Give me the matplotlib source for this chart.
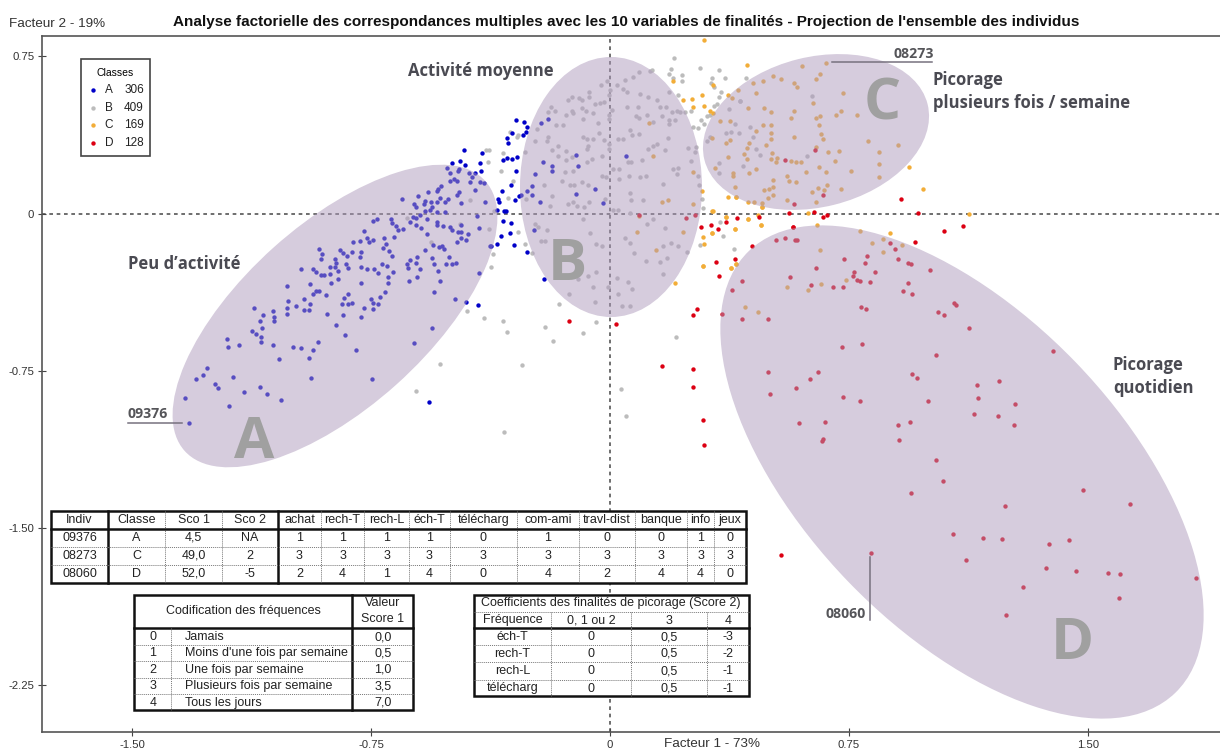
import numpy as np
import matplotlib
matplotlib.use("Agg")
from matplotlib import pyplot as plt
from matplotlib.patches import Ellipse, Rectangle

# points (factor 1, factor 2)
a_pts = [(-1.322,-0.997),(-1.334,-0.879),(-1.299,-0.790),(-1.277,-0.770),(-1.266,-0.736),(-1.240,-0.811),(-1.231,-0.830),
    (-1.195,-0.919),(-1.183,-0.781),(-1.150,-0.849),(-1.098,-0.825),(-1.076,-0.860),(-1.033,-0.889),(-1.202,-0.598),
    (-1.198,-0.638),(-1.163,-0.628),(-1.124,-0.558),(-1.111,-0.573),(-1.095,-0.590),(-1.095,-0.612),(-1.092,-0.544),
    (-1.098,-0.515),(-1.089,-0.485),(-1.118,-0.450),(-1.056,-0.464),(-1.053,-0.495),(-1.053,-0.511),(-1.056,-0.628),
    (-1.039,-0.692),(-0.994,-0.638),(-0.971,-0.643),(-0.933,-0.652),(-0.945,-0.687),(-0.916,-0.612),(-0.939,-0.786),
    (-1.013,-0.480),(-1.013,-0.450),(-1.010,-0.415),(-0.985,-0.439),(-0.959,-0.410),(-0.959,-0.460),(-0.945,-0.460),
    (-0.942,-0.431),(-1.013,-0.347),(-0.971,-0.267),(-0.933,-0.263),(-0.923,-0.277),(-0.907,-0.293),(-0.897,-0.293),
    (-0.880,-0.288),(-0.880,-0.253),(-0.913,-0.169),(-0.903,-0.194),(-0.907,-0.218),(-0.862,-0.218),(-0.859,-0.234),
    (-0.862,-0.253),(-0.855,-0.272),(-0.848,-0.174),(-0.839,-0.189),(-0.826,-0.204),(-0.829,-0.239),(-0.823,-0.258),
    (-0.809,-0.185),(-0.806,-0.135),(-0.784,-0.129),(-0.771,-0.084),(-0.764,-0.115),(-0.755,-0.134),(-0.745,-0.124),
    (-0.745,-0.035),(-0.732,-0.027),(-0.686,-0.026),(-0.683,-0.046),(-0.670,-0.061),(-0.664,-0.081),(-0.650,-0.075),
    (-0.677,-0.110),(-0.709,-0.115),(-0.703,-0.145),(-0.712,-0.164),(-0.692,-0.180),(-0.683,-0.204),(-0.780,-0.185),
    (-0.784,-0.209),(-0.780,-0.253),(-0.764,-0.263),(-0.741,-0.267),(-0.729,-0.282),(-0.715,-0.239),(-0.699,-0.248),
    (-0.680,-0.278),(-0.696,-0.302),(-0.696,-0.333),(-0.706,-0.375),(-0.722,-0.396),(-0.727,-0.431),(-0.745,-0.455),
    (-0.751,-0.406),(-0.745,-0.426),(-0.771,-0.450),(-0.780,-0.495),(-0.780,-0.333),(-0.809,-0.426),(-0.823,-0.382),
    (-0.835,-0.401),(-0.842,-0.431),(-0.823,-0.431),(-0.839,-0.485),(-0.859,-0.534),(-0.832,-0.579),(-0.797,-0.649),
    (-0.888,-0.480),(-0.891,-0.387),(-0.923,-0.371),(-0.933,-0.382),(-0.914,-0.371),(-0.942,-0.337),(-0.874,-0.333),
    (-0.852,-0.313),(-0.748,-0.790),(-0.615,-0.617),(-0.559,-0.544),(-0.485,-0.410),(-0.453,-0.422),(-0.411,-0.283),
    (-0.553,-0.375),(-0.534,-0.323),(-0.541,-0.274),(-0.553,-0.239),(-0.559,-0.213),(-0.605,-0.302),(-0.631,-0.323),
    (-0.595,-0.263),(-0.609,-0.234),(-0.605,-0.209),(-0.627,-0.224),(-0.638,-0.243),(-0.635,-0.258),(-0.582,-0.174),
    (-0.556,-0.150),(-0.537,-0.161),(-0.527,-0.154),(-0.521,-0.169),(-0.505,-0.209),(-0.514,-0.243),(-0.495,-0.243),
    (-0.482,-0.234),(-0.479,-0.135),(-0.453,-0.124),(-0.469,-0.115),(-0.446,-0.100),(-0.476,-0.089),(-0.466,-0.089),
    (-0.466,-0.056),(-0.502,-0.065),(-0.496,-0.080),(-0.524,-0.061),(-0.544,-0.042),(-0.544,-0.056),(-0.573,-0.096),
    (-0.592,-0.070),(-0.609,-0.056),(-0.627,-0.042),(-0.618,-0.016),(-0.609,-0.021),(-0.595,-0.005),(-0.573,-0.027),
    (-0.582,0.014),(-0.566,0.019),(-0.559,0.033),(-0.609,0.033),(-0.615,0.044),(-0.653,0.067),(-0.602,0.082),
    (-0.585,0.044),(-0.582,0.059),(-0.562,0.057),(-0.570,0.102),(-0.544,0.106),(-0.541,0.117),(-0.530,0.132),
    (-0.534,0.073),(-0.544,0.054),(-0.517,0.057),(-0.508,0.071),(-0.544,0.008),(-0.517,0.008),(-0.417,-0.011),
    (-0.411,-0.070),(-0.374,-0.154),(-0.391,0.054),(-0.466,0.049),(-0.479,0.087),(-0.473,0.102),(-0.423,0.113),
    (-0.408,0.149),(-0.394,0.146),(-0.444,0.192),(-0.434,0.173),(-0.423,0.192),(-0.440,0.152),(-0.502,0.192),
    (-0.511,0.219),(-0.476,0.202),(-0.473,0.213),(-0.479,0.157),(-0.502,0.154),(-0.489,0.164),
    (-0.295,0.447),(-0.269,0.434),(-0.262,0.412),(-0.264,0.388),(-0.272,0.372),(-0.308,0.383),(-0.324,0.359),
    (-0.321,0.334),(-0.457,0.305),(-0.402,0.289),(-0.337,0.256),(-0.324,0.266),(-0.308,0.261),(-0.292,0.270),
    (-0.408,0.242),(-0.406,0.205),(-0.470,0.251),(-0.496,0.242),(-0.455,0.229),(-0.295,0.205),(-0.311,0.134),
    (-0.340,0.107),(-0.350,0.067),(-0.347,0.053),(-0.298,0.062),(-0.286,0.083),(-0.280,0.086),(-0.261,0.107),
    (-0.246,0.129),(-0.246,0.086),(-0.220,0.054),(-0.236,0.186),(-0.183,0.226),(-0.183,0.205),(-0.211,0.245),
    (-0.217,0.433),(-0.194,0.452),(-0.107,0.278),(-0.099,0.226),(0.049,0.274),(-0.048,0.116),(-0.107,0.092),
    (-0.022,0.049),(-0.334,0.014),(-0.326,0.014),(-0.356,0.019),(-0.337,-0.036),(-0.311,-0.046),(-0.314,-0.095),
    (-0.343,-0.105),(-0.356,-0.145),(-0.301,-0.149),(-0.375,-0.154),(-0.259,-0.183),(-0.240,-0.081),(-0.207,-0.312),
    (-0.414,-0.436),(-0.567,-0.900)]

b_pts = [(0.202,0.743),(0.191,0.689),(0.185,0.665),(0.198,0.646),(0.227,0.660),(0.225,0.630),(0.282,0.693),(0.341,0.684),
    (0.360,0.646),(0.321,0.644),(0.317,0.620),(0.327,0.603),(0.349,0.580),(0.343,0.555),(0.335,0.520),(0.326,0.515),
    (0.314,0.472),(0.304,0.464),(0.286,0.448),(0.295,0.428),(0.275,0.406),(0.259,0.412),(0.253,0.491),(0.426,0.644),
    (0.408,0.536),(0.133,0.685),(0.126,0.679),(0.090,0.673),(0.071,0.649),(0.046,0.639),(0.023,0.611),(0.040,0.596),
    (-0.009,0.634),(-0.028,0.611),(0.000,0.587),(-0.002,0.563),(0.054,0.580),(0.094,0.568),(0.120,0.555),(0.146,0.541),
    (0.186,0.580),(0.213,0.563),(-0.067,0.579),(-0.065,0.555),(-0.087,0.542),(-0.097,0.550),(-0.120,0.555),(-0.131,0.539),
    (-0.019,0.534),(-0.031,0.526),(-0.047,0.523),(-0.186,0.510),(-0.172,0.491),(-0.139,0.469),(-0.120,0.491),(-0.117,0.479),
    (-0.089,0.504),(-0.075,0.491),(-0.052,0.479),(-0.084,0.452),(-0.039,0.433),(-0.002,0.452),(-0.002,0.468),(0.007,0.495),
    (0.052,0.507),(0.087,0.507),(0.082,0.463),(0.090,0.456),(0.117,0.468),(0.157,0.507),(0.176,0.507),(0.193,0.483),
    (0.209,0.491),(0.220,0.483),(0.236,0.482),(0.136,0.436),(0.162,0.463),(0.186,0.447),(0.205,0.448),(0.185,0.428),
    (-0.194,0.483),(-0.169,0.420),(-0.148,0.420),(-0.230,0.401),(-0.194,0.364),(-0.199,0.345),(-0.235,0.344),(-0.266,0.294),
    (-0.183,0.305),(-0.162,0.320),(-0.139,0.297),(-0.162,0.272),(-0.084,0.364),(-0.073,0.356),(-0.052,0.356),(-0.036,0.383),
    (-0.019,0.351),(-0.002,0.332),(-0.002,0.309),(0.024,0.353),(0.042,0.356),(0.063,0.396),(0.068,0.375),(0.090,0.380),
    (0.120,0.309),(0.136,0.324),(0.148,0.332),(0.173,0.304),(0.181,0.359),(0.244,0.312),(0.269,0.317),(0.267,0.293),
    (0.253,0.248),(0.214,0.218),(0.209,0.189),(0.199,0.213),(0.277,0.178),(0.279,0.134),(0.288,0.070),(-0.069,0.324),
    (-0.073,0.309),(-0.025,0.272),(-0.058,0.261),(-0.073,0.245),(-0.118,0.269),(-0.139,0.253),(-0.115,0.205),(-0.141,0.197),
    (-0.152,0.154),(-0.126,0.137),(-0.113,0.137),(-0.089,0.150),(-0.068,0.138),(-0.026,0.181),(-0.014,0.173),(0.010,0.213),
    (0.029,0.213),(0.028,0.165),(0.061,0.177),(0.094,0.173),(0.113,0.178),(0.058,0.245),(0.065,0.245),(0.099,0.253),
    (0.167,0.142),(0.105,0.062),(0.065,0.062),(0.063,0.099),(-0.207,0.137),(-0.183,0.083),(-0.264,0.070),(-0.188,0.038),
    (-0.131,0.046),(-0.115,0.054),(-0.105,0.038),(-0.081,0.030),(-0.065,0.054),(-0.016,0.070),(0.010,0.019),(0.024,0.019),
    (-0.084,-0.025),(0.063,0.002),(0.136,-0.025),(0.173,-0.070),(0.117,-0.049),(-0.235,-0.049),(-0.225,-0.065),(-0.199,-0.081),
    (-0.204,-0.129),(-0.218,-0.132),(-0.063,-0.092),(-0.045,-0.145),(-0.026,-0.153),(0.048,-0.118),(0.063,-0.140),(0.075,-0.189),
    (0.113,-0.227),(0.157,-0.232),(0.178,-0.211),(0.190,-0.140),(0.167,-0.156),(0.214,-0.157),(0.243,-0.184),(0.165,-0.288),
    (0.023,-0.307),(0.055,-0.327),(0.070,-0.359),(-0.099,-0.312),(-0.068,-0.300),(-0.045,-0.277),(-0.054,-0.351),(-0.005,-0.351),
    (0.026,-0.386),(0.037,-0.440),(0.063,-0.440),(-0.048,-0.424),(-0.129,-0.386),(-0.161,-0.431),(-0.045,-0.518),(-0.204,-0.542),
    (-0.335,-0.515),(-0.395,-0.498),(-0.450,-0.466),(-0.372,-0.253),(-0.366,-0.192),(-0.267,-0.145),(-0.246,-0.189),(-0.289,-0.086),
    (-0.341,0.205),(-0.337,0.289),(-0.382,0.245),(-0.389,0.301),(-0.379,0.301),(-0.314,0.388),(-0.288,0.375),(-0.293,0.364),
    (-0.320,0.073),(-0.305,0.153),(-0.364,0.014),(-0.379,-0.075),(-0.471,-0.049),(-0.563,-0.138),(-0.439,0.065),(-0.638,-0.021),
    (-0.609,-0.845),(-0.533,-0.717),(-0.324,-0.565),(-0.275,-0.722),(-0.332,-1.042),(0.633,0.560),(0.374,0.499),(0.409,0.536),
    (0.392,0.428),(0.438,0.412),(0.364,0.383),(0.380,0.388),(0.406,0.383),(0.448,0.367),(0.458,0.309),(0.470,0.280),
    (0.619,0.274),(0.418,0.226),(0.341,0.240),(0.341,0.191),(0.305,0.344),(0.314,0.367),(0.345,-0.041),(0.354,-0.105),
    (0.390,-0.170),(0.282,-0.149),(0.293,0.024),(-0.178,-0.609),(-0.084,-0.569),(0.036,-0.835),(0.049,-0.964),(0.208,-0.588)]

c_pts = [(0.429,0.709),(0.199,0.630),(0.230,0.541),(0.256,0.547),(0.290,0.566),(0.259,0.510),(0.296,0.515),(0.314,0.491),
    (0.324,0.480),(0.370,0.566),(0.403,0.590),(0.322,0.611),(0.123,0.431),(0.288,0.107),(0.162,0.053),(0.183,0.062),
    (0.261,0.199),(0.259,0.043),(0.321,0.014),(0.370,0.078),(0.395,0.081),(0.432,-0.025),(0.463,-0.005),(0.474,-0.057),
    (0.476,0.030),(0.364,-0.017),(0.392,-0.075),(0.321,-0.094),(0.291,-0.110),(0.295,-0.145),(0.293,-0.248),(0.204,-0.332),
    (0.380,-0.262),(0.395,-0.243),(0.143,-0.173),(0.084,-0.086),(0.230,-0.086),(0.090,-0.010),(0.134,0.274),(0.622,0.003),
    (0.651,-0.056),(0.295,0.825),(0.677,0.717),(0.603,0.704),(0.659,0.665),(0.646,0.641),(0.513,0.654),(0.536,0.641),
    (0.480,0.634),(0.450,0.622),(0.577,0.620),(0.588,0.601),(0.458,0.576),(0.730,0.576),(0.382,0.552),(0.636,0.526),
    (0.432,0.501),(0.483,0.501),(0.506,0.482),(0.577,0.487),(0.568,0.456),(0.646,0.456),(0.659,0.463),(0.710,0.472),
    (0.724,0.487),(0.775,0.468),(0.344,0.439),(0.377,0.439),(0.480,0.421),(0.506,0.421),(0.656,0.421),(0.458,0.393),
    (0.506,0.382),(0.662,0.377),(0.577,0.367),(0.319,0.361),(0.377,0.350),(0.506,0.353),(0.668,0.353),(0.435,0.337),
    (0.489,0.329),(0.364,0.334),(0.811,0.348),(0.905,0.329),(0.429,0.310),(0.421,0.285),(0.509,0.289),(0.646,0.316),
    (0.684,0.294),(0.718,0.299),(0.843,0.294),(0.370,0.269),(0.429,0.261),(0.506,0.261),(0.525,0.266),(0.522,0.245),
    (0.568,0.250),(0.584,0.245),(0.600,0.245),(0.707,0.250),(0.843,0.235),(0.328,0.216),(0.458,0.210),(0.656,0.221),
    (0.616,0.200),(0.678,0.200),(0.756,0.205),(0.387,0.194),(0.436,0.191),(0.385,0.180),(0.555,0.180),(0.843,0.172),
    (0.513,0.162),(0.562,0.156),(0.584,0.151),(0.392,0.127),(0.682,0.137),(0.652,0.123),(0.724,0.116),(0.513,0.127),
    (0.500,0.116),(0.483,0.111),(0.671,0.111),(0.633,0.102),(0.513,0.088),(0.496,0.072),(0.396,0.078),(0.432,0.057),
    (0.451,0.053),(0.477,0.048),(0.477,0.029),(0.555,0.062),(0.646,0.053),(0.937,0.221),(0.983,0.116),(1.125,0.000),
    (0.783,-0.084),(0.879,-0.095),(0.821,-0.140),(0.856,-0.121),(0.915,-0.149),(0.856,-0.184),(0.659,-0.173),(0.742,-0.316),
    (0.662,-0.337),(0.620,-0.366),(0.554,-0.351),(0.425,-0.445),(0.464,-0.471),(0.321,-0.095),(0.291,-0.250),(0.379,-0.262),
    (0.396,-0.243),(0.393,-0.076),(0.432,-0.027),(0.473,-0.056),(0.322,0.013),(0.364,-0.017)]

d_pts = [(-0.129,-0.515),(0.020,-0.525),(0.162,-0.727),(0.259,-0.741),(0.259,-0.825),(0.293,-0.987),(0.296,-1.102),(0.259,-0.485),
    (0.273,-0.455),(0.350,-0.480),(0.341,-0.299),(0.334,-0.229),(0.393,-0.219),(0.447,-0.154),(0.285,-0.065),(0.318,-0.056),
    (0.338,-0.072),(0.364,-0.041),(0.399,-0.022),(0.466,-0.018),(0.574,-0.065),(0.563,0.002),(0.639,0.008),(0.668,-0.018),
    (0.681,-0.006),(0.914,0.067),(0.966,0.003),(1.109,-0.060),(0.575,-0.065),(0.643,0.305),(0.548,0.254),(0.577,0.045),
    (0.668,0.088),(0.240,-0.022),(0.091,-0.005),(0.268,-0.006),(0.522,-0.126),(0.548,-0.116),(0.580,-0.126),(0.586,-0.126),
    (0.645,-0.258),(0.564,-0.302),(0.632,-0.342),(0.700,-0.351),(0.415,-0.321),(0.382,-0.367),(0.415,-0.504),(0.497,-0.504),
    (0.497,-0.757),(0.654,-0.757),(0.629,-0.790),(0.583,-0.830),(0.503,-0.859),(0.594,-0.997),(0.674,-0.992),(0.668,-1.075),
    (0.665,-1.086),(1.048,-0.084),(0.957,-0.135),(0.878,-0.140),(0.895,-0.170),(0.904,-0.219),(0.807,-0.204),(0.801,-0.234),
    (0.733,-0.219),(0.935,-0.234),(0.943,-0.239),(1.005,-0.269),(0.833,-0.278),(0.765,-0.278),(0.762,-0.297),(0.775,-0.316),
    (0.784,-0.321),(0.817,-0.328),(0.730,-0.351),(0.934,-0.332),(0.918,-0.370),(0.947,-0.382),(0.788,-0.445),(0.804,-0.455),
    (1.028,-0.471),(1.048,-0.485),(1.079,-0.426),(1.086,-0.436),(1.125,-0.544),(1.391,-0.657),(1.022,-0.677),(0.727,-0.638),
    (0.791,-0.623),(0.947,-0.766),(0.963,-0.785),(1.151,-0.816),(1.222,-0.801),(1.154,-0.879),(1.271,-0.908),(1.142,-0.954),
    (1.216,-0.968),(1.267,-1.008),(0.998,-0.894),(0.730,-0.875),(0.784,-0.894),(0.904,-1.008),(0.941,-0.992),(0.907,-1.081),
    (1.022,-1.175),(1.044,-1.274),(0.944,-1.332),(1.485,-1.318),(1.631,-1.383),(1.239,-1.396),(1.076,-1.530),(1.171,-1.546),
    (1.230,-1.550),(1.378,-1.574),(1.440,-1.555),(1.116,-1.654),(1.368,-1.689),(1.462,-1.703),(1.563,-1.712),(1.599,-1.717),
    (1.838,-1.738),(1.297,-1.782),(1.596,-1.832),(1.242,-1.916),(0.818,-1.619),(0.536,-1.628)]

class_names = ["A", "B", "C", "D"]
class_counts = [306, 409, 169, 128]
class_colors = ["#0000c8", "#bcbcbc", "#f2ad38", "#dc0012"]

x_ticks = [-1.50, -0.75, 0, 0.75, 1.50]
x_tick_labels = ["-1.50", "-0.75", "0", "0.75", "1.50"]
y_ticks = [0.75, 0, -0.75, -1.50, -2.25]
y_tick_labels = ["0.75", "0", "-0.75", "-1.50", "-2.25"]

indiv_head = ["Indiv", "Classe", "Sco 1", "Sco 2", "achat", "rech-T", "rech-L", "éch-T", "télécharg",
              "com-ami", "travl-dist", "banque", "info", "jeux"]
indiv_rows = [["09376", "A", "4,5", "NA", "1", "1", "1", "1", "0", "1", "0", "0", "1", "0"],
              ["08273", "C", "49,0", "2", "3", "3", "3", "3", "3", "3", "3", "3", "3", "3"],
              ["08060", "D", "52,0", "-5", "2", "4", "1", "4", "0", "4", "2", "4", "4", "0"]]
freq_codes = ["0", "1", "2", "3", "4"]
freq_names = ["Jamais", "Moins d'une fois par semaine", "Une fois par semaine", "Plusieurs fois par semaine", "Tous les jours"]
freq_values = ["0,0", "0,5", "1,0", "3,5", "7,0"]
coef_head = ["Fréquence", "0, 1 ou 2", "3", "4"]
coef_rows = [["éch-T", "0", "0,5", "-3"], ["rech-T", "0", "0,5", "-2"],
             ["rech-L", "0", "0,5", "-1"], ["télécharg", "0", "0,5", "-1"]]

ARIAL = "Liberation Sans"
LABEL = "Open Sans"
TXT = "#222222"
W, H = 1220, 751

fig = plt.figure(figsize=(W / 100, H / 100), dpi=100)

# main scatter, the axes box is given in pixels of the picture
left, right, top, bottom = 42, 1220, 36, 732
ax = fig.add_axes([left / W, 1 - bottom / H, (right - left) / W, (bottom - top) / H])
ax.set_xlim((left - 610) / 318.67, (right - 610) / 318.67)
ax.set_ylim((213.5 - bottom) / 209.7, (213.5 - top) / 209.7)
ax.spines["right"].set_visible(False)
for s in ["left", "bottom", "top"]:
    ax.spines[s].set_color("#555555")
    ax.spines[s].set_linewidth(1.2)
ax.set_xticks(x_ticks, x_tick_labels, family=ARIAL)
ax.set_yticks(y_ticks, y_tick_labels, family=ARIAL)
ax.tick_params(direction="inout", length=6, width=0.8, color="#444444", labelsize=8.2,
               labelcolor="#333333", pad=2.5)
ax.axhline(0, color="#555555", lw=1.2, ls=(0, (2.2, 2.2)), zorder=1)
ax.axvline(0, color="#555555", lw=1.2, ls=(0, (2.2, 2.2)), zorder=1)

for pts, col in zip([b_pts, a_pts, c_pts, d_pts], [class_colors[1], class_colors[0], class_colors[2], class_colors[3]]):
    arr = np.array(pts)
    ax.scatter(arr[:, 0], arr[:, 1], s=10, color=col, linewidths=0, zorder=3)

# overlay in picture pixels for the ellipses, labels and tables
ov = fig.add_axes([0, 0, 1, 1], facecolor="none")
ov.set_xlim(0, W)
ov.set_ylim(H, 0)
ov.axis("off")

for cx, cy, wd, hg, ang in [(335, 316, 404, 184, -41.9), (611, 187, 182, 260, 0),
                            (816, 132, 230, 150, -14), (962, 472, 614, 316, 46)]:
    ov.add_patch(Ellipse((cx, cy), wd, hg, angle=ang, facecolor=(174 / 255, 154 / 255, 188 / 255),
                         alpha=0.506, linewidth=0, zorder=2))

for t, x, y in [("A", 254, 436), ("B", 567, 258), ("C", 882, 98), ("D", 1072, 637)]:
    ov.text(x, y, t, family=LABEL, weight="bold", fontsize=42, color="#a0a0a0", ha="center", va="center_baseline", zorder=3)

for t, x, y in [("Peu d’activité", 128, 264), ("Activité moyenne", 408, 71), ("Picorage", 933, 80),
                ("plusieurs fois / semaine", 933, 103), ("Picorage", 1113, 365), ("quotidien", 1113, 388)]:
    ov.text(x, y, t, family=LABEL, weight="bold", fontsize=12, color="#4a4a52", va="center", zorder=4)

for t, x, y in [("09376", 128, 414), ("08273", 893, 54), ("08060", 826, 614)]:
    ov.text(x, y, t, family=LABEL, weight="bold", fontsize=10.2, color="#555559", va="center", zorder=4)
ov.plot([128, 182], [423, 423], color="#77717f", lw=1.1, zorder=4)
ov.plot([832, 932], [62, 62], color="#77717f", lw=1.1, zorder=4)
ov.plot([870, 870], [557, 620], color="#77717f", lw=1.1, zorder=4)

ov.text(626, 22, "Analyse factorielle des correspondances multiples avec les 10 variables de finalités - Projection de l'ensemble des individus",
        family=ARIAL, weight="bold", fontsize=11, ha="center", va="center", color="#111111")
ov.text(9, 24, "Facteur 2 - 19%", family=ARIAL, fontsize=9.7, va="center", color="#333333")
ov.text(664, 744, "Facteur 1 - 73%", family=ARIAL, fontsize=9.7, va="center", color="#333333")

# legend box
ov.add_patch(Rectangle((81, 59), 69, 97, facecolor="white", edgecolor="#444444", lw=1.2, zorder=5))
ov.text(115, 73, "Classes", family=ARIAL, fontsize=7.5, ha="center", va="center", zorder=6)
for name, n, col, y in zip(class_names, class_counts, class_colors, [90, 108, 125, 143]):
    ov.scatter([93], [y], s=10, color=col, linewidths=0, zorder=6)
    ov.text(109, y, name, family=ARIAL, fontsize=8.5, ha="center", va="center", zorder=6, color=TXT)
    ov.text(134, y, str(n), family=ARIAL, fontsize=8.5, ha="center", va="center", zorder=6, color=TXT)


def cell(x, y, t, ha="center"):
    ov.text(x, y, t, family=ARIAL, fontsize=9, ha=ha, va="center", color=TXT, zorder=9)


def hline(x0, x1, y, heavy=False):
    ov.plot([x0, x1], [y, y], color="#111111" if heavy else "#777777", lw=1.8 if heavy else 0.7,
            ls="-" if heavy else (0, (1, 1)), zorder=8)


def vline(x, y0, y1, heavy=False):
    ov.plot([x, x], [y0, y1], color="#111111" if heavy else "#777777", lw=1.8 if heavy else 0.7,
            ls="-" if heavy else (0, (1, 1)), zorder=8)


# table of the three individuals
col_x = [51, 108, 165, 222, 278, 321, 364, 409, 450, 517, 579, 635, 687, 714, 746]
row_y = [511, 529, 547, 565, 583]
ov.add_patch(Rectangle((51, 511), 695, 72, facecolor="white", edgecolor="#111111", lw=1.8, zorder=7))
for i, x in enumerate(col_x[1:-1], start=1):
    vline(x, 511, 583, heavy=i in (1, 4))
hline(51, 746, 529, heavy=True)
for y in row_y[2:-1]:
    hline(51, 746, y)
for j, row in enumerate([indiv_head] + indiv_rows):
    for i, t in enumerate(row):
        cell((col_x[i] + col_x[i + 1]) / 2, (row_y[j] + row_y[j + 1]) / 2, t)

# frequency table
ov.add_patch(Rectangle((134, 595), 279, 115, facecolor="white", edgecolor="#111111", lw=1.8, zorder=7))
vline(352, 595, 710, heavy=True)
hline(134, 413, 628, heavy=True)
vline(171, 628, 710)
for y in [645, 661, 678, 694]:
    hline(134, 413, y)
cell(243, 611, "Codification des fréquences")
cell(383, 603, "Valeur")
cell(383, 619, "Score 1")
for i in range(5):
    y = 637 + i * 16.4
    cell(153, y, freq_codes[i])
    cell(185, y, freq_names[i], ha="left")
    cell(383, y, freq_values[i])

# coefficient table
c_x = [474, 551, 631, 707, 749]
c_y = [612, 628, 645, 662, 680, 696]
ov.add_patch(Rectangle((474, 595), 275, 101, facecolor="white", edgecolor="#111111", lw=1.8, zorder=7))
hline(474, 749, 612)
hline(474, 749, 628, heavy=True)
for x in c_x[1:-1]:
    vline(x, 612, 696)
for y in c_y[2:-1]:
    hline(474, 749, y)
cell(611, 603, "Coefficients des finalités de picorage (Score 2)")
for j, row in enumerate([coef_head] + coef_rows):
    for i, t in enumerate(row):
        cell((c_x[i] + c_x[i + 1]) / 2, (c_y[j] + c_y[j + 1]) / 2 + 0.5, t)

fig.savefig("out.png", dpi=100)
